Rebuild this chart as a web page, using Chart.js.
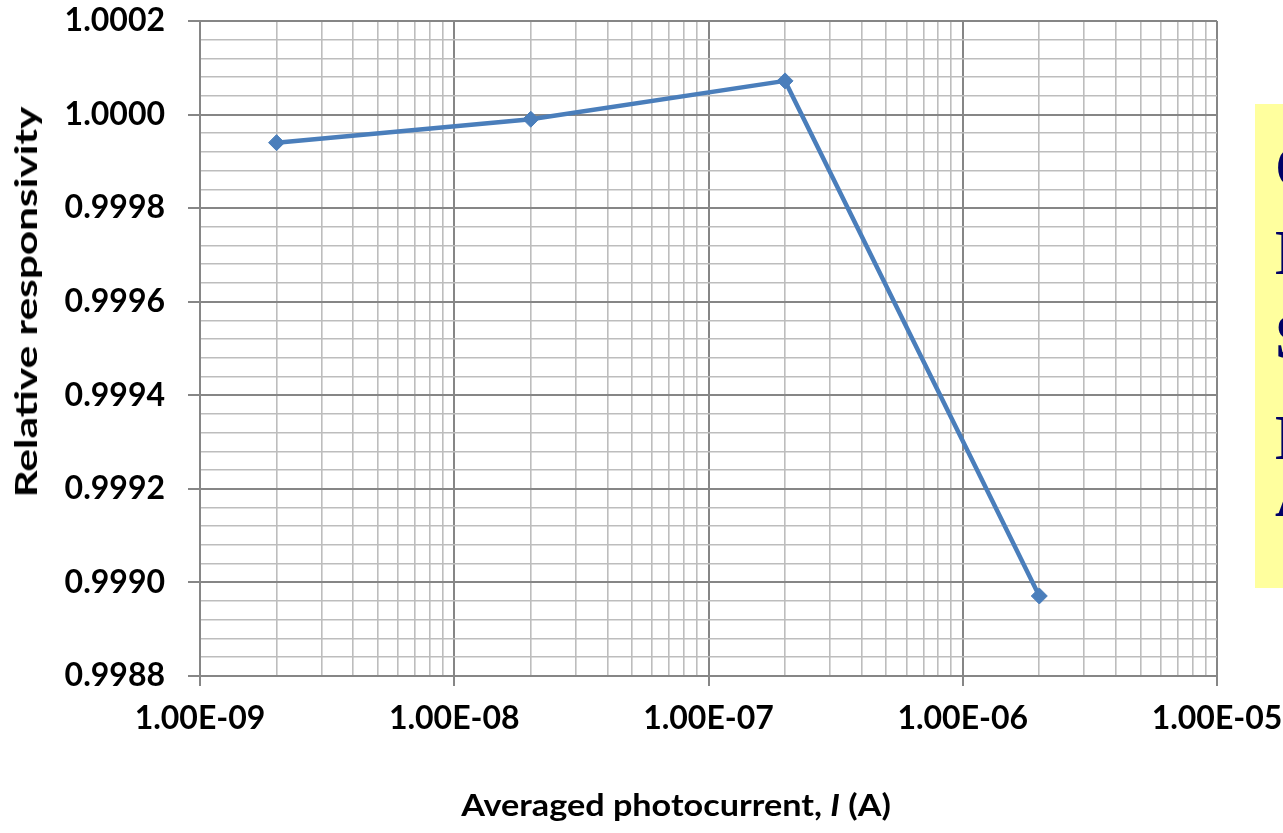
<!DOCTYPE html>
<html>
<head>
<meta charset="utf-8">
<script src="https://cdn.jsdelivr.net/npm/chart.js@4"></script>
<style>
  html, body { margin:0; padding:0; background:#fff; }
  #wrap { position:relative; width:1283px; height:833px; overflow:hidden; background:#fff; }
  #note { position:absolute; left:1255px; top:104px; width:60px; height:484px; background:#FFFF9E; overflow:hidden; }
  #note span { position:absolute; left:20px; font-family:"Liberation Serif","DejaVu Serif",serif; font-weight:bold;
               font-size:63px; line-height:63px; color:#000066; white-space:nowrap; }
  .axt { position:absolute; font-family:Lato,"Open Sans",sans-serif; font-weight:bold; color:#000; white-space:nowrap; }
  #xt { left:676px; top:804px; transform:translate(-50%,-50%) scaleX(1.14); font-size:30px; }
  #yt { left:25px; top:302px; transform:translate(-50%,-50%) rotate(-90deg) scaleX(1.41); font-size:30px; }
</style>
</head>
<body>
<div id="wrap">
  <canvas id="c" width="1283" height="833"></canvas>
  <div id="note">
    <span style="top:32px">C</span>
    <span style="top:118px">E</span>
    <span style="top:202px">S</span>
    <span style="top:303px">E</span>
    <span style="top:360px">A</span>
  </div>
  <div class="axt" id="xt">Averaged photocurrent, <i>I</i> (A)</div>
  <div class="axt" id="yt">Relative responsivity</div>
</div>
<script>
// ---- data ----
const photocurrent = [2e-9, 2e-8, 2e-7, 2e-6];
const responsivity = [0.99994, 0.99999, 1.000072, 0.998971];
const xDecades = [1e-9, 1e-8, 1e-7, 1e-6, 1e-5];
const xTickLabels = ["1.00E-09", "1.00E-08", "1.00E-07", "1.00E-06", "1.00E-05"];
const yMajorValues = [0.9988, 0.9990, 0.9992, 0.9994, 0.9996, 0.9998, 1.0000, 1.0002];
const yTickLabels = ["0.9988", "0.9990", "0.9992", "0.9994", "0.9996", "0.9998", "1.0000", "1.0002"];
const yMinorPerMajor = 5;

const FONT = "Lato, 'Open Sans', sans-serif";

function isDecade(v) {
  const l = Math.log10(v);
  return Math.abs(l - Math.round(l)) < 1e-6;
}
function yMajorIndex(v) {
  for (let i = 0; i < yMajorValues.length; i++) if (Math.abs(v - yMajorValues[i]) < 1e-9) return i;
  return -1;
}

new Chart(document.getElementById('c'), {
  type: 'line',
  data: {
    datasets: [{
      data: photocurrent.map((x, i) => ({ x: x, y: responsivity[i] })),
      borderColor: '#4A7EBB',
      backgroundColor: '#4A7EBB',
      borderWidth: 4.5,
      pointStyle: 'rectRot',
      pointRadius: 8,
      pointBorderWidth: 1,
      tension: 0,
      fill: false,
      clip: false
    }]
  },
  options: {
    responsive: false,
    animation: false,
    devicePixelRatio: 1,
    layout: { padding: { top: 21, right: 66, bottom: 0, left: 0 } },
    plugins: { legend: { display: false }, tooltip: { enabled: false } },
    scales: {
      x: {
        type: 'logarithmic',
        min: xDecades[0],
        max: xDecades[xDecades.length - 1],
        afterBuildTicks: (s) => {
          const t = [];
          for (let d = 0; d < xDecades.length - 1; d++) {
            for (let k = 1; k <= 9; k++) t.push({ value: xDecades[d] * k });
          }
          t.push({ value: xDecades[xDecades.length - 1] });
          s.ticks = t;
        },
        afterFit: (s) => { s.height = 833 - 676; s.paddingLeft = 0; s.paddingRight = 0; },
        ticks: {
          autoSkip: false,
          maxRotation: 0,
          padding: 13,
          color: '#000',
          font: { family: FONT, size: 32, weight: 'bold' },
          callback: (v) => {
            if (!isDecade(v)) return '';
            const i = xDecades.findIndex(d => Math.abs(Math.log10(d) - Math.log10(v)) < 1e-6);
            return i >= 0 ? xTickLabels[i] : '';
          }
        },
        grid: {
          color: (c) => (c.tick && isDecade(c.tick.value)) ? '#868686' : '#BDBDBD',
          lineWidth: (c) => (c.tick && isDecade(c.tick.value)) ? 2 : 1.6,
          tickColor: (c) => (c.tick && isDecade(c.tick.value)) ? '#868686' : 'rgba(0,0,0,0)',
          tickLength: 10
        },
        border: { display: true, color: '#868686', width: 2 },
        title: { display: false }
      },
      y: {
        type: 'linear',
        min: yMajorValues[0],
        max: yMajorValues[yMajorValues.length - 1],
        afterBuildTicks: (s) => {
          const t = [];
          for (let i = 0; i < yMajorValues.length; i++) {
            t.push({ value: yMajorValues[i] });
            if (i < yMajorValues.length - 1) {
              const step = (yMajorValues[i + 1] - yMajorValues[i]) / yMinorPerMajor;
              for (let k = 1; k < yMinorPerMajor; k++) t.push({ value: yMajorValues[i] + step * k });
            }
          }
          s.ticks = t;
        },
        afterFit: (s) => { s.width = 200; s.paddingTop = 0; s.paddingBottom = 0; },
        ticks: {
          autoSkip: false,
          padding: 23,
          color: '#000',
          font: { family: FONT, size: 32, weight: 'bold' },
          callback: (v) => {
            const i = yMajorIndex(v);
            return i >= 0 ? yTickLabels[i] : '';
          }
        },
        grid: {
          color: (c) => (c.tick && yMajorIndex(c.tick.value) >= 0) ? '#868686' : '#BDBDBD',
          lineWidth: (c) => (c.tick && yMajorIndex(c.tick.value) >= 0) ? 2 : 1.6,
          tickColor: (c) => (c.tick && yMajorIndex(c.tick.value) >= 0) ? '#868686' : 'rgba(0,0,0,0)',
          tickLength: 12
        },
        border: { display: true, color: '#868686', width: 2 },
        title: { display: false }
      }
    }
  }
});
</script>
</body>
</html>
